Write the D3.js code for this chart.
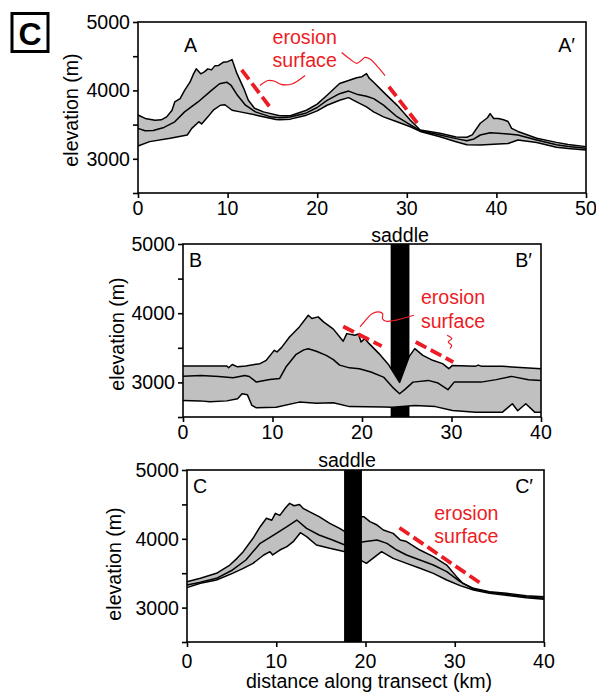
<!DOCTYPE html>
<html>
<head>
<meta charset="utf-8">
<script src="https://cdn.jsdelivr.net/npm/d3@7"></script>
<style>
  body { margin: 0; background: #fff; }
  svg { display: block; font-family: "Liberation Sans", Arial, sans-serif; }
</style>
</head>
<body>
<div id="chart"></div>
<script>
// swath profiles: [distance km, elevation m]
const aMax = [[0,3640],[0.8,3590],[1.9,3565],[2.6,3570],[3.2,3613],[3.8,3710],[4.1,3831],[4.7,3880],[5.2,4000],[5.8,4120],[6.2,4242],[6.5,4315],[7.0,4242],[7.4,4270],[7.8,4315],[8.2,4300],[8.6,4362],[9.0,4365],[9.5,4410],[10.0,4420],[10.5,4450],[11.0,4260],[11.8,4030],[12.3,3860],[13.0,3740],[14.0,3686],[15.8,3630],[17,3630],[18.8,3710],[20,3800],[21.1,3930],[22.5,4100],[23.5,4145],[24.4,4185],[25.0,4200],[25.5,4245],[25.8,4180],[26.3,4120],[27.4,3975],[28.9,3785],[30.4,3565],[31.5,3420],[33.7,3372],[35.5,3320],[36.7,3315],[37.3,3350],[38.2,3520],[39.0,3600],[39.3,3660],[39.7,3590],[40.2,3590],[40.8,3570],[41.3,3545],[41.7,3445],[42.4,3400],[44.5,3300],[46.7,3240],[48,3210],[50,3178]];
const aMean = [[0,3445],[0.8,3410],[1.7,3415],[2.9,3459],[4.1,3541],[5.2,3686],[6.7,3831],[8.2,4000],[9.1,4097],[9.9,4120],[10.4,4072],[11.1,3928],[12.0,3783],[13.1,3686],[14.8,3613],[15.8,3600],[17,3610],[18.8,3671],[20,3750],[21.1,3855],[22.5,3952],[23.5,3990],[24.4,3945],[25.5,3915],[26.3,3880],[27.4,3785],[28.9,3615],[30.4,3495],[31.5,3410],[33.7,3348],[35.5,3295],[36.7,3265],[37.5,3290],[38.2,3348],[39.3,3380],[40.2,3372],[41.3,3362],[42.4,3348],[44.5,3275],[46.7,3205],[48,3180],[50,3155]];
const aMin = [[0,3188],[1.3,3251],[3.6,3300],[5.5,3348],[6.0,3445],[6.8,3541],[7.1,3510],[7.8,3613],[8.4,3710],[9.2,3783],[9.7,3790],[10.5,3710],[11.4,3686],[13.2,3638],[15.4,3575],[15.8,3570],[17,3580],[18.8,3638],[20,3700],[21.1,3783],[22.5,3855],[23.5,3894],[24.4,3831],[25.5,3758],[26.3,3686],[27.4,3613],[28.9,3541],[30.4,3468],[31.5,3400],[33.7,3323],[35.5,3250],[36.7,3205],[38.2,3203],[40.2,3215],[41.3,3223],[42.4,3275],[44.5,3237],[46.7,3169],[48,3150],[50,3130]];

const bMax = [[0,3236],[4.9,3236],[5.1,3212],[5.5,3258],[6.1,3225],[7,3238],[8.6,3271],[9.3,3319],[9.9,3416],[10.2,3464],[10.5,3440],[11,3503],[11.9,3657],[13,3802],[14,3971],[14.4,3923],[15.1,3947],[15.7,3874],[16.8,3770],[17.9,3595],[18.3,3705],[19.2,3681],[19.6,3700],[19.9,3584],[20.3,3633],[20.8,3560],[21.9,3416],[23,3250],[24.2,3000],[25.3,3380],[25.9,3488],[26.8,3391],[27.9,3319],[29,3271],[29.7,3198],[30.1,3246],[32.7,3235],[33,3250],[33.3,3235],[35.7,3232],[40,3198]];
const bMean = [[0,3090],[2,3100],[4,3085],[5.6,3068],[6.9,3100],[7.4,3085],[8.2,3005],[9.7,3043],[10.8,3057],[11.5,3222],[12.6,3400],[13.5,3470],[14,3485],[14.9,3450],[16,3390],[16.8,3330],[17.5,3250],[18.6,3210],[19.7,3198],[21,3150],[22.4,3077],[23.4,2932],[24.2,2836],[24.8,2900],[25.7,3004],[27.4,3029],[28.5,2990],[29.6,2894],[30.3,3004],[33.3,3004],[35,3040],[36.7,3087],[38.6,3039],[40,3029]];
const bMin = [[0,2739],[1.9,2733],[3,2720],[4.9,2733],[6.1,2763],[6.6,2836],[7.2,2820],[7.7,2667],[8.2,2633],[10.4,2640],[13,2715],[14.9,2700],[16.8,2705],[18.6,2650],[22.4,2643],[23.4,2640],[25.9,2667],[28.2,2650],[30.1,2594],[32.7,2570],[35.7,2570],[36.8,2691],[37.4,2590],[38.3,2691],[39.3,2570],[40,2570]];

const cMax = [[0,3377],[1.5,3426],[3.3,3498],[4.8,3619],[5.6,3716],[6.3,3813],[7.4,4007],[8.2,4176],[8.9,4298],[9.5,4270],[9.9,4370],[10.4,4340],[11,4443],[11.5,4516],[12.0,4480],[12.6,4500],[13,4443],[13.7,4394],[14.8,4322],[16,4225],[17.1,4152],[17.7,4103],[18.7,4322],[19.8,4322],[20.5,4249],[21.3,4200],[22,4128],[23.1,4079],[23.9,3983],[24.6,3960],[26.1,3837],[27.6,3740],[29.1,3619],[30.2,3450],[30.9,3353],[32.1,3280],[33.9,3232],[35.8,3208],[38,3173],[40,3159]];
const cMean = [[0,3329],[1.5,3370],[3.3,3426],[5.1,3547],[6.6,3692],[8.2,3934],[9.7,4055],[11.2,4176],[12.3,4273],[13.4,4152],[14.8,4055],[16.3,3983],[17.7,3910],[19.8,3958],[21.3,3983],[22.4,3934],[23.5,3837],[24.6,3765],[26.1,3692],[27.6,3619],[29.1,3522],[30.6,3377],[32.1,3270],[33.9,3222],[35.8,3193],[38,3159],[40,3135]];
const cMin = [[0,3290],[1.5,3353],[3.3,3401],[5.1,3498],[6.3,3571],[7.4,3643],[8.6,3765],[9.3,3813],[9.6,3765],[10.4,3837],[11.2,3886],[11.9,3958],[12.7,4089],[13.4,4031],[14.5,3910],[16,3862],[17.7,3813],[20.1,3643],[21.8,3813],[23.1,3716],[24.6,3643],[26.1,3571],[27.6,3498],[29.1,3401],[30.6,3319],[32.1,3256],[33.9,3208],[38,3144],[40,3120]];

// saddle bars [from km, to km]
const bSaddle = [23.2, 25.3];
const cSaddle = [17.6, 19.6];

// erosion surface annotations
const aDashes = [[[11.57,4300],[14.65,3768]], [[28.0,4054],[31.2,3517]]];
const aLeaders = [
  [[13.62,4072],[14.51,4145],[15.18,4138],[15.96,4087],[17.19,4094],[18.64,4217]],
  [[22.73,4555],[23.66,4459],[24.41,4396],[24.97,4445],[25.33,4483],[25.89,4459],[26.64,4362],[27.57,4217]]
];
const aNote = [18.6, 4680];
const bDashes = [[[17.9,3807],[22.2,3525]], [[26.0,3584],[30.2,3294]]];
const bLeaders = [
  [[19.78,3801],[20.53,3917],[21.12,3993],[21.82,4019],[22.31,3993],[22.29,3920],[22.68,3884],[23.46,3891],[25.81,3971]],
  [[29.50,3681],[30.02,3633],[29.64,3584],[30.02,3536],[29.83,3488]]
];
const bNote = [30.17, 4130];
const cDashes = [[[23.8,4161],[32.9,3353]]];
const cNote = [31.3, 4273];

const yTicks = [2500, 3000, 3500, 4000, 4500, 5000];
const yLabels = [3000, 4000, 5000];

const RED = '#ed1c24';
const GRAY = '#c0c0c0';
const FS = 19.6;   // font size

const svg = d3.select('#chart').append('svg')
  .attr('width', 596)
  .attr('height', 692);

function label(g, str, x, y, anchor, opts = {}) {
  return g.append('text')
    .attr('transform', `translate(${x},${y})${opts.rotate ? ' rotate(-90)' : ''}`)
    .attr('text-anchor', anchor)
    .attr('font-size', opts.size || FS)
    .attr('fill', opts.color || '#000')
    .text(str);
}

const panels = [
  { box: [138, 22, 586, 193], xMax: 50, max: aMax, mean: aMean, min: aMin,
    names: ['A', 'A\u2032'], nameY: 52, nameL: 46, nameR: 11,
    yTitle: [60, 110], xLabelDy: 22,
    dashes: aDashes, leaders: aLeaders, note: aNote },
  { box: [183, 244, 541, 417], xMax: 40, max: bMax, mean: bMean, min: bMin,
    names: ['B', 'B\u2032'], nameY: 267, nameL: 6, nameR: 9,
    yTitle: [59, 334], xLabelDy: 22,
    saddle: bSaddle, saddleBehind: true, saddleDx: 0, saddleDy: 2,
    dashes: bDashes, leaders: bLeaders, note: bNote },
  { box: [187, 470, 544, 642], xMax: 40, max: cMax, mean: cMean, min: cMin,
    names: ['C', 'C\u2032'], nameY: 493, nameL: 6, nameR: 11,
    yTitle: [66, 564], xLabelDy: 26,
    saddle: cSaddle, saddleBehind: false, saddleDx: -6, saddleDy: 3,
    dashes: cDashes, leaders: [], note: cNote, xTitle: 'distance along transect (km)' }
];

panels.forEach(p => {
  const [l, t, r, b] = p.box;
  const x = d3.scaleLinear().domain([0, p.xMax]).range([l, r]);
  const y = d3.scaleLinear().domain([2500, 5000]).range([b, t]);
  const g = svg.append('g');

  const line = d3.line().x(d => x(d[0])).y(d => y(d[1]));

  const drawSaddle = () => {
    g.append('rect')
      .attr('x', x(p.saddle[0]))
      .attr('y', t)
      .attr('width', x(p.saddle[1]) - x(p.saddle[0]))
      .attr('height', b - t)
      .attr('fill', '#000');
    label(g, 'saddle', (x(p.saddle[0]) + x(p.saddle[1])) / 2 + p.saddleDx, t - p.saddleDy, 'middle');
  };

  if (p.saddle && p.saddleBehind) drawSaddle();

  // min-max band
  g.append('path')
    .attr('d', line(p.max.concat(p.min.slice().reverse())) + 'Z')
    .attr('fill', GRAY);

  [p.max, p.mean, p.min].forEach(s => {
    g.append('path')
      .attr('d', line(s))
      .attr('fill', 'none')
      .attr('stroke', '#000')
      .attr('stroke-width', 1.5)
      .attr('stroke-linejoin', 'round');
  });

  if (p.saddle && !p.saddleBehind) drawSaddle();

  // frame and ticks
  g.append('rect')
    .attr('x', l).attr('y', t)
    .attr('width', r - l).attr('height', b - t)
    .attr('fill', 'none')
    .attr('stroke', '#000')
    .attr('stroke-width', 1.6);

  const yAxis = g.append('g')
    .attr('transform', `translate(${l},0)`)
    .call(d3.axisLeft(y).tickValues(yTicks).tickSize(5).tickFormat(''));
  const xAxis = g.append('g')
    .attr('transform', `translate(0,${b})`)
    .call(d3.axisBottom(x).tickValues(d3.range(0, p.xMax + 1, 10)).tickSize(5).tickFormat(''));
  [yAxis, xAxis].forEach(a => {
    a.select('.domain').remove();
    a.selectAll('line').attr('stroke-width', 1.6);
  });

  yLabels.forEach(v => label(g, v, l - 8, y(v) + 7, 'end'));
  d3.range(0, p.xMax + 1, 10).forEach(v => label(g, v, x(v), b + p.xLabelDy, 'middle'));

  label(g, 'elevation (m)', l - p.yTitle[0], p.yTitle[1], 'middle', { rotate: true });
  if (p.xTitle) label(g, p.xTitle, 369, 688, 'middle');

  label(g, p.names[0], l + p.nameL, p.nameY, 'start');
  label(g, p.names[1], r - p.nameR, p.nameY, 'end');

  // erosion surface
  p.dashes.forEach(d => {
    g.append('path')
      .attr('d', line(d))
      .attr('stroke', RED)
      .attr('stroke-width', 3.8)
      .attr('stroke-dasharray', '12,5');
  });
  const leader = d3.line().curve(d3.curveCatmullRom).x(d => x(d[0])).y(d => y(d[1]));
  p.leaders.forEach(d => {
    g.append('path')
      .attr('d', leader(d))
      .attr('fill', 'none')
      .attr('stroke', RED)
      .attr('stroke-width', 1.2);
  });
  label(g, 'erosion', x(p.note[0]), y(p.note[1]), 'middle', { color: RED });
  label(g, 'surface', x(p.note[0]), y(p.note[1]) + 23.4, 'middle', { color: RED });
});

// panel letter
svg.append('rect')
  .attr('x', 12).attr('y', 13.5)
  .attr('width', 36).attr('height', 38)
  .attr('fill', 'none')
  .attr('stroke', '#000')
  .attr('stroke-width', 3);
svg.append('text')
  .attr('x', 30).attr('y', 44.5)
  .attr('text-anchor', 'middle')
  .attr('font-size', 32)
  .attr('font-weight', 'bold')
  .text('C');
</script>
</body>
</html>
